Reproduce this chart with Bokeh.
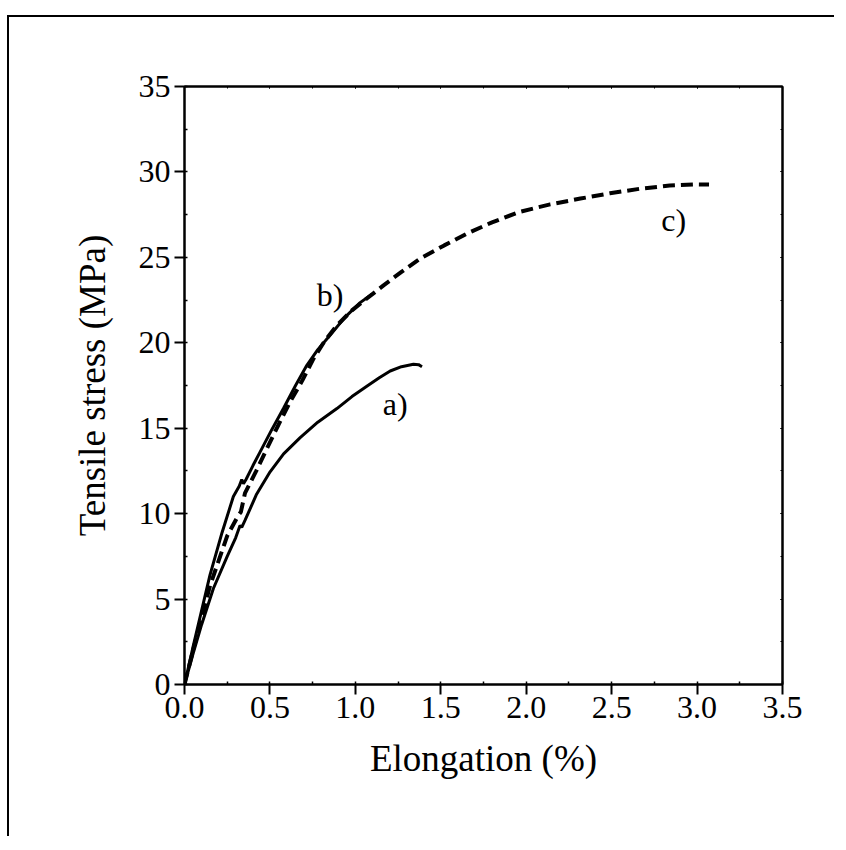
from bokeh.plotting import figure
from bokeh.models import LinearAxis, Range1d, SingleIntervalTicker, CustomJSTickFormatter
from bokeh.core.properties import value
from bokeh.embed import file_html
from bokeh.resources import INLINE

# Curve a) (solid, lower)
a_x = [0, 0.05, 0.10, 0.169, 0.25, 0.30, 0.325, 0.335, 0.354, 0.42, 0.501, 0.58, 0.677, 0.78,
       0.892, 0.98, 1.067, 1.14, 1.204, 1.27, 1.34, 1.37, 1.39]
a_y = [0, 1.8, 3.5, 5.62, 7.5, 8.6, 9.3, 9.2, 9.6, 11.1, 12.45, 13.5, 14.45, 15.35,
       16.15, 16.85, 17.45, 17.95, 18.35, 18.6, 18.74, 18.72, 18.6]

# Curve b) (solid, upper)
b_x = [0, 0.05, 0.149, 0.22, 0.286, 0.32, 0.335, 0.345, 0.36, 0.40, 0.442, 0.51, 0.579, 0.65,
       0.716, 0.78, 0.852, 0.94, 1.028, 1.07, 1.097]
b_y = [0, 2.2, 6.4, 8.9, 11.0, 11.6, 12.0, 11.75, 12.0, 12.8, 13.6, 14.9, 16.15, 17.5,
       18.68, 19.6, 20.44, 21.5, 22.35, 22.65, 22.85]

# Curve c) (dashed)
c_x = [0, 0.05, 0.15, 0.25, 0.315, 0.33, 0.354, 0.42, 0.482, 0.55, 0.618, 0.69, 0.755, 0.82,
       0.892, 0.98, 1.067, 1.165, 1.27, 1.38, 1.52, 1.653, 1.80, 1.96, 2.14, 2.317, 2.49,
       2.668, 2.84, 3.0, 3.07]
c_y = [0, 2.0, 5.8, 8.7, 9.9, 10.1, 11.2, 12.5, 13.8, 15.2, 16.54, 17.8, 19.07, 20.1,
       21.02, 21.9, 22.59, 23.36, 24.15, 24.93, 25.7, 26.39, 27.05, 27.66, 28.1, 28.44, 28.75,
       29.02, 29.2, 29.27, 29.26]

label_text = ["a)", "b)", "c)"]
label_x = [1.233, 0.852, 2.863]
label_y = [16.44, 22.8, 27.2]

FONT = "Liberation Serif"

p = figure(output_backend="svg", toolbar_location=None,
           frame_width=598, frame_height=598,
           min_border_left=175, min_border_top=69, min_border_right=52, min_border_bottom=152,
           x_range=Range1d(0, 3.5), y_range=Range1d(0, 35),
           x_axis_label="Elongation (%)", y_axis_label="Tensile stress (MPa)",
           styles={"border-left": "2px solid black", "border-top": "2px solid black",
                   "margin-top": "15px", "margin-left": "7px"})

p.xgrid.grid_line_color = None
p.ygrid.grid_line_color = None
p.outline_line_color = "black"
p.outline_line_width = 2
p.background_fill_color = "white"
p.border_fill_color = "white"

p.xaxis.ticker = SingleIntervalTicker(interval=0.5, num_minor_ticks=2)
p.yaxis.ticker = SingleIntervalTicker(interval=5, num_minor_ticks=2)
p.xaxis.formatter = CustomJSTickFormatter(code="return tick.toFixed(1);")

for ax in [p.xaxis[0], p.yaxis[0]]:
    ax.axis_line_width = 2
    ax.axis_line_color = "black"
    ax.major_tick_line_width = 2
    ax.major_tick_out = 10
    ax.major_tick_in = 0
    ax.minor_tick_line_width = 1.5
    ax.minor_tick_in = 3
    ax.minor_tick_out = 0
    ax.major_label_text_font = FONT
    ax.major_label_text_font_size = "32px"
    ax.major_label_text_color = "black"
    ax.axis_label_text_font = FONT
    ax.axis_label_text_font_size = "37px"
    ax.axis_label_text_font_style = "normal"
    ax.axis_label_text_color = "black"

p.xaxis.major_label_standoff = 2
p.yaxis.major_label_standoff = 4
p.xaxis.axis_label_standoff = 17
p.yaxis.axis_label_standoff = 23

empty = CustomJSTickFormatter(code="return '';")
top = LinearAxis(ticker=SingleIntervalTicker(interval=0.5, num_minor_ticks=2), formatter=empty)
right = LinearAxis(ticker=SingleIntervalTicker(interval=5, num_minor_ticks=2), formatter=empty)
for ax in [top, right]:
    ax.axis_line_width = 2
    ax.major_tick_line_width = 1
    ax.major_tick_in = 2
    ax.major_tick_out = 0
    ax.minor_tick_line_width = 1
    ax.minor_tick_in = 2
    ax.minor_tick_out = 0
    ax.major_label_standoff = 0
p.add_layout(top, "above")
p.add_layout(right, "right")

p.line(a_x, a_y, line_color="black", line_width=3)
p.line(b_x, b_y, line_color="black", line_width=3)
p.line(c_x, c_y, line_color="black", line_width=4, line_dash="12 6")

p.text(label_x, label_y, text=label_text, text_font=value(FONT), text_font_size="32px",
       text_align="center", text_baseline="middle", text_color="black")

open("out.html", "w").write(file_html(p, INLINE))
